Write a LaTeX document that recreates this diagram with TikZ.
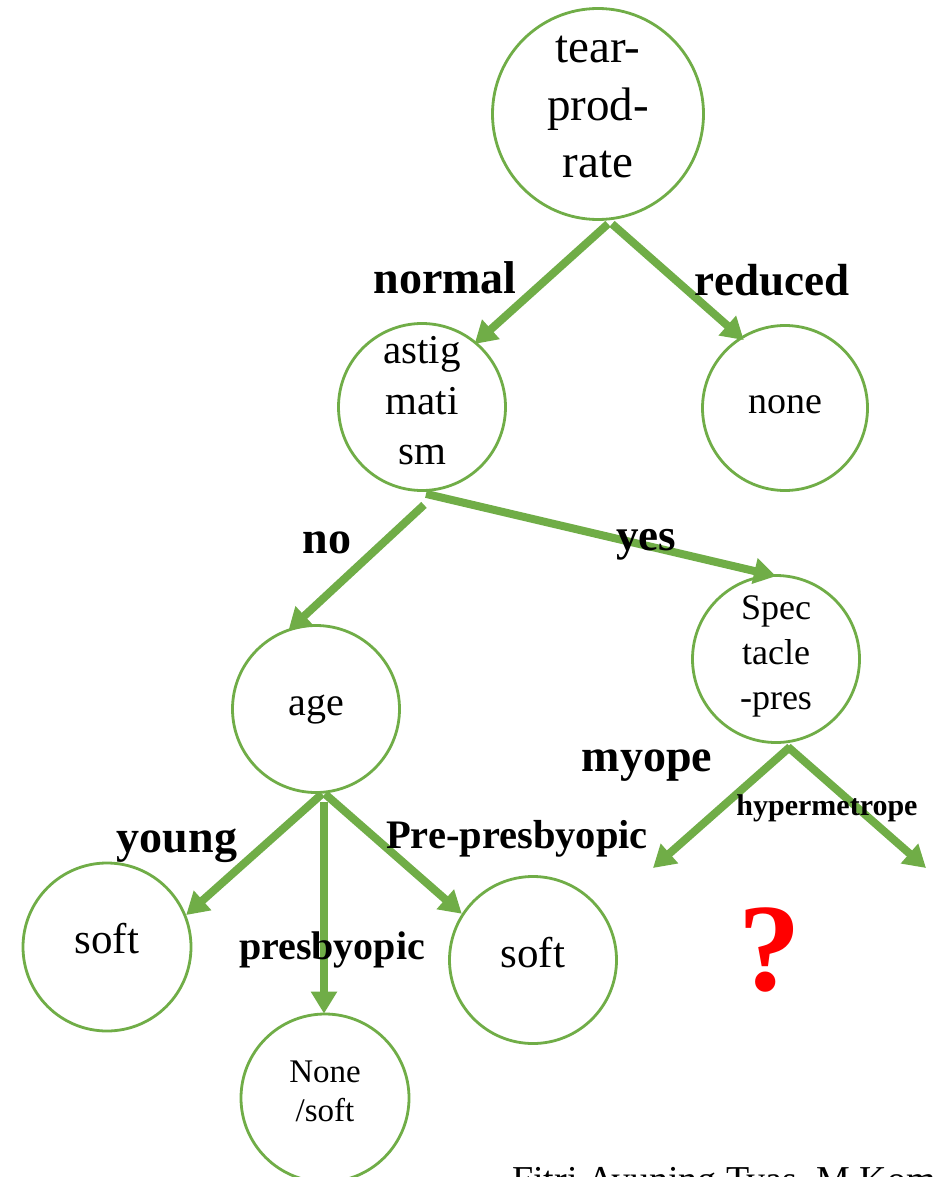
\documentclass[tikz,border=0pt]{standalone}
\usepackage{fontspec}
\setmainfont{Liberation Serif}
\usetikzlibrary{arrows.meta}
\definecolor{treegreen}{RGB}{112,173,71}
\tikzset{
  tree/.style={circle,draw=treegreen,line width=2.8pt,inner sep=0pt},
  treetext/.style={inner sep=0pt,align=center},
  link/.style={draw=treegreen,line width=8pt,-{Triangle[length=22pt,width=25pt]}},
  edgelabel/.style={inner sep=0pt,anchor=base},
}
\newcommand{\fs}[2]{\fontsize{#1}{#2}\selectfont}
\begin{document}
\begin{tikzpicture}[x=1pt,y=-1pt]
\useasboundingbox (0,0) rectangle (932,1177);
\fill[white] (0,0) rectangle (932,1177);
\node[tree,minimum size=211pt] (root) at (598,114) {};
\node[tree,minimum size=167pt] (astig) at (422,407) {};
\node[tree,minimum size=165pt] (none) at (785,408) {};
\node[tree,minimum size=167pt] (age) at (316,709) {};
\node[tree,minimum size=167pt] (spec) at (776,659) {};
\node[tree,minimum size=168pt] (softa) at (107,947) {};
\node[tree,minimum size=168pt] (nonesoft) at (325,1098) {};
\node[tree,minimum size=167pt] (softb) at (533,960) {};
\node[treetext,font=\fs{47}{57.5}] (troot) at ([yshift=7pt]root.center) {tear-\\prod-\\rate};
\node[treetext,font=\fs{41}{50.5}] (tastig) at ([yshift=6pt]astig.center) {astig\\mati\\sm};
\node[treetext,font=\fs{38}{40}] (tnone) at ([yshift=3pt]none.center) {none};
\node[treetext,font=\fs{40}{40}] (tage) at ([yshift=-1pt]age.center) {age};
\node[treetext,font=\fs{36}{45}] (tspec) at ([yshift=3pt]spec.center) {Spec\\tacle\\-pres};
\node[treetext,font=\fs{43}{40}] (tsofta) at ([yshift=8pt]softa.center) {soft};
\node[treetext,font=\fs{33}{39}] (tnonesoft) at ([yshift=7pt]nonesoft.center) {None\\/soft};
\node[treetext,font=\fs{43}{40}] (tsoftb) at ([yshift=7pt]softb.center) {soft};
\coordinate (endl) at (653,868);
\coordinate (endr) at (926,868);
\draw[link] ([shift={(10,3)}]root.south) -- ([shift={(-2,2)}]astig.50.5);
\draw[link] ([shift={(14,3)}]root.south) -- ([shift={(2,4)}]none.121);
\draw[link] ([shift={(2,13)}]astig.south) -- ([shift={(0,2)}]age.109);
\draw[link] ([shift={(4,2)}]astig.south) -- ([shift={(0,2)}]spec.north);
\draw[link] ([shift={(6,0)}]age.south) -- (softa.22);
\draw[link] ([shift={(8,8)}]age.south) -- ([shift={(-1,1)}]nonesoft.north);
\draw[link] ([shift={(9,0)}]age.south) -- (softb.147);
\draw[link] ([shift={(14,3)}]spec.south) -- (endl);
\draw[link] ([shift={(12,3)}]spec.south) -- (endr);
\node[edgelabel,font=\bfseries\fs{46}{50}] (lnormal) at (445,293) {normal};
\node[edgelabel,font=\bfseries\fs{45}{50}] (lreduced) at (772,295) {reduced};
\node[edgelabel,font=\bfseries\fs{46}{50}] (lno) at (327,553) {no};
\node[edgelabel,font=\bfseries\fs{45}{50}] (lyes) at (646,550) {yes};
\node[edgelabel,font=\bfseries\fs{46}{50}] (lmyope) at (647,771) {myope};
\node[edgelabel,font=\bfseries\fs{30}{40}] (lhyper) at (827,815) {hypermetrope};
\node[edgelabel,font=\bfseries\fs{46}{50}] (lyoung) at (177,852) {young};
\node[edgelabel,font=\bfseries\fs{40.5}{50}] (lpre) at (517,848) {Pre-presbyopic};
\node[edgelabel,font=\bfseries\fs{40}{50}] (lpres) at (332,959) {presbyopic};
\node[inner sep=0pt,anchor=base,text=red,font=\bfseries\fs{125}{130}] (q) at (770,990) {?};
\begin{scope}
\clip (0,0) rectangle (932,1177);
\node[inner sep=0pt,anchor=base west,font=\fs{38}{50}] (credit) at (512,1192) {Fitri Ayuning Tyas, M.Kom};
\end{scope}
\end{tikzpicture}
\end{document}
